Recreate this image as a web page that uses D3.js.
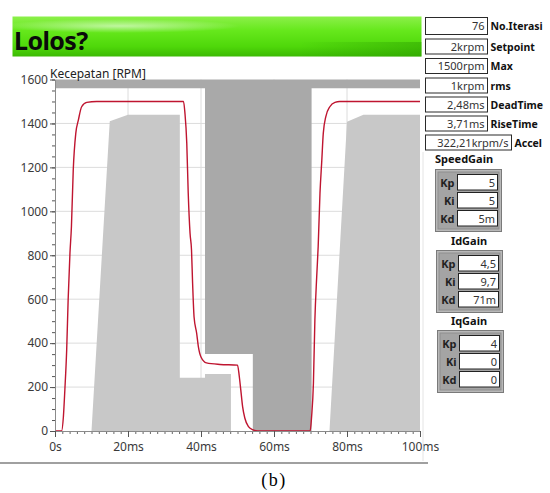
<!DOCTYPE html>
<html><head><meta charset="utf-8">
<script src="https://cdn.jsdelivr.net/npm/d3@7"></script>
<style>
html,body{margin:0;padding:0;background:#fff;}
svg{display:block;}
</style></head>
<body>
<svg id="c" width="550" height="493"></svg>
<script>
// ---------- data ----------
const xTicks = [0, 20, 40, 60, 80, 100];
const xTickLabels = ["0s", "20ms", "40ms", "60ms", "80ms", "100ms"];
const yTicks = [0, 200, 400, 600, 800, 1000, 1200, 1400, 1600];
const yTickLabels = ["0", "200", "400", "600", "800", "1000", "1200", "1400", "1600"];

// upper tolerance boundary (dark gray above it)
const upperT = [0, 41.1, 41.1, 54.2, 54.2, 70.3, 70.3, 100];
const upperV = [1560, 1560, 350, 350, 0, 0, 1560, 1560];
// lower tolerance boundary (light gray below it)
const lowerT = [0, 10, 15, 20, 34.2, 34.2, 41.1, 41.1, 48.2, 48.2, 75.2, 80, 84.5, 100];
const lowerV = [0, 0, 1410, 1440, 1440, 242, 242, 260, 260, 0, 0, 1408, 1440, 1440];

// measured speed
const speedT = [0, 1.8, 2.3, 2.7, 3.2, 3.6, 4.1, 4.5, 5.0, 5.7, 6.4, 7.3, 8.7, 11.4, 35.2, 35.6, 36.1, 36.5, 37.0, 37.4, 37.7, 38.1, 38.8, 39.3, 40.0, 41.5, 45.2, 50.0, 50.5, 50.9, 51.4, 52.0, 53.0, 54.3, 55.5, 69.9, 70.3, 70.8, 71.2, 71.7, 72.1, 72.6, 73.1, 73.5, 74.2, 75.3, 76.7, 78, 100];
const speedV = [0, 0, 65, 187, 369, 596, 810, 930, 1188, 1356, 1415, 1476, 1496, 1500, 1500, 1447, 1311, 1083, 900, 824, 673, 519, 446, 382, 337, 310, 303, 300, 247, 187, 111, 59, 20, 5, 0, 0, 65, 218, 505, 702, 839, 1083, 1233, 1355, 1431, 1476, 1496, 1500, 1500];

// right panel
const infoValues = ["76", "2krpm", "1500rpm", "1krpm", "2,48ms", "3,71ms", "322,21krpm/s"];
const infoLabels = ["No.Iterasi", "Setpoint", "Max", "rms", "DeadTime", "RiseTime", "Accel"];
const gainGroups = ["SpeedGain", "IdGain", "IqGain"];
const gainNames = ["Kp", "Ki", "Kd"];
const speedGain = ["5", "5", "5m"];
const idGain = ["4,5", "9,7", "71m"];
const iqGain = ["4", "0", "0"];

// ---------- drawing ----------
const svg = d3.select("#c");
const font = "'Noto Sans', 'Open Sans', sans-serif";

// banner
const defs = svg.append("defs");
const g1 = defs.append("linearGradient").attr("id", "gb").attr("x1", 0).attr("y1", 0).attr("x2", 0).attr("y2", 1);
g1.append("stop").attr("offset", "0%").attr("stop-color", "#8cf04a");
g1.append("stop").attr("offset", "35%").attr("stop-color", "#66e81c");
g1.append("stop").attr("offset", "75%").attr("stop-color", "#4fd80a");
g1.append("stop").attr("offset", "100%").attr("stop-color", "#3cba04");
const g2 = defs.append("radialGradient").attr("id", "gh").attr("cx", 0.5).attr("cy", 0.5).attr("r", 0.5);
g2.append("stop").attr("offset", "0%").attr("stop-color", "#ffffff").attr("stop-opacity", 0.55);
g2.append("stop").attr("offset", "100%").attr("stop-color", "#ffffff").attr("stop-opacity", 0);
const g3 = defs.append("linearGradient").attr("id", "gr").attr("x1", 0).attr("y1", 0).attr("x2", 1).attr("y2", 0);
g3.append("stop").attr("offset", "0%").attr("stop-color", "#2a9a00").attr("stop-opacity", 0);
g3.append("stop").attr("offset", "100%").attr("stop-color", "#2a9a00").attr("stop-opacity", 0.45);

svg.append("rect").attr("x", 12.5).attr("y", 16.5).attr("width", 409).attr("height", 40).attr("fill", "url(#gb)");
svg.append("ellipse").attr("cx", 120).attr("cy", 26).attr("rx", 120).attr("ry", 7).attr("fill", "url(#gh)");
svg.append("rect").attr("x", 300).attr("y", 42).attr("width", 121.5).attr("height", 14.5).attr("fill", "url(#gr)");
svg.append("text").attr("x", 14).attr("y", 50).attr("font-family", font).attr("font-weight", "bold")
  .attr("font-size", 25).attr("letter-spacing", -0.6).attr("fill", "#0a0a0a").text("Lolos?");

// scales
const x = d3.scaleLinear().domain([0, 100]).range([55, 420]);
const y = d3.scaleLinear().domain([0, 1600]).range([431, 79.5]);

const plot = svg.append("g");
// gridlines
plot.selectAll(".hg").data(yTicks.filter(v => v > 0 && v < 1600)).join("line")
  .attr("x1", x(0)).attr("x2", x(100)).attr("y1", d => y(d)).attr("y2", d => y(d))
  .attr("stroke", "#dcdcdc").attr("stroke-width", 1);
plot.selectAll(".vg").data(xTicks.filter(v => v > 0 && v < 100)).join("line")
  .attr("y1", y(0)).attr("y2", y(1600)).attr("x1", d => x(d)).attr("x2", d => x(d))
  .attr("stroke", "#dcdcdc").attr("stroke-width", 1);

const upper = upperT.map((t, i) => [t, upperV[i]]);
const lower = lowerT.map((t, i) => [t, lowerV[i]]);
plot.append("path").datum(upper)
  .attr("d", d3.area().x(d => x(d[0])).y0(y(1600)).y1(d => y(d[1])))
  .attr("fill", "#a9a9a9");
plot.append("path").datum(lower)
  .attr("d", d3.area().x(d => x(d[0])).y0(y(0)).y1(d => y(d[1])))
  .attr("fill", "#c8c8c8");

const speed = speedT.map((t, i) => [t, speedV[i]]);
plot.append("path").datum(speed)
  .attr("d", d3.line().x(d => x(d[0])).y(d => y(d[1])).curve(d3.curveMonotoneX))
  .attr("fill", "none").attr("stroke", "#bf1530").attr("stroke-width", 1.4);

// axes
function styleAxis(g) {
  g.select(".domain").attr("stroke", "#8a8a8a");
  g.selectAll(".tick line").attr("stroke", "#555");
  g.selectAll(".tick text").attr("fill", "#3a3a3a").attr("font-family", font).attr("font-size", 12);
}
const minorY = d3.range(0, 1601, 50);
svg.append("g").attr("transform", "translate(55,0)")
  .call(d3.axisLeft(y).tickValues(minorY).tickSize(3).tickFormat(""))
  .call(g => { g.select(".domain").remove(); g.selectAll(".tick line").attr("stroke", "#555"); });
svg.append("g").attr("transform", "translate(55,0)")
  .call(d3.axisLeft(y).tickValues(yTicks).tickSize(5).tickSizeOuter(0).tickPadding(2)
    .tickFormat((d, i) => yTickLabels[i]))
  .call(styleAxis);

const minorX = d3.range(0, 101, 2);
svg.append("g").attr("transform", "translate(0,431)")
  .call(d3.axisBottom(x).tickValues(minorX).tickSize(3).tickFormat(""))
  .call(g => { g.select(".domain").remove(); g.selectAll(".tick line").attr("stroke", "#666"); });
svg.append("g").attr("transform", "translate(0,431)")
  .call(d3.axisBottom(x).tickValues(xTicks).tickSize(6).tickSizeOuter(0).tickPadding(5)
    .tickFormat((d, i) => xTickLabels[i]))
  .call(styleAxis);

svg.append("text").attr("x", 50).attr("y", 78).attr("font-family", font).attr("font-size", 12)
  .attr("fill", "#222").text("Kecepatan [RPM]");

// bottom separator and caption
svg.append("line").attr("x1", 0).attr("x2", 428).attr("y1", 463).attr("y2", 463)
  .attr("stroke", "#a0a0a0").attr("stroke-width", 2);
svg.append("text").attr("x", 274).attr("y", 486).attr("text-anchor", "middle")
  .attr("font-family", "'Liberation Serif', 'DejaVu Serif', serif").attr("font-size", 18)
  .attr("letter-spacing", 1.5).attr("fill", "#000").text("(b)");

// right panel
svg.append("line").attr("x1", 423).attr("x2", 423).attr("y1", 152).attr("y2", 461)
  .attr("stroke", "#e4e4e4").attr("stroke-width", 1);

const infoTops = [17, 38.5, 58, 77.5, 96.5, 115.5, 134.5];
const info = svg.append("g");
infoValues.forEach((v, i) => {
  const w = i === 6 ? 86 : 62;
  const h = i === 0 ? 17 : 15;
  info.append("rect").attr("x", 425.5).attr("y", infoTops[i] + 0.5).attr("width", w).attr("height", h)
    .attr("fill", "#fff").attr("stroke", "#2a2a2a").attr("stroke-width", 1);
  info.append("text").attr("x", 425.5 + w - 3).attr("y", infoTops[i] + h / 2 + 4.5).attr("text-anchor", "end")
    .attr("font-family", font).attr("font-size", 11).attr("fill", "#333").text(v);
  info.append("text").attr("x", 425.5 + w + 3).attr("y", infoTops[i] + h / 2 + 4.5)
    .attr("font-family", font).attr("font-size", 10.5).attr("font-weight", "bold").attr("fill", "#111").text(infoLabels[i]);
});

const gainVals = [speedGain, idGain, iqGain];
const gainBox = [{x: 435, y: 169, tx: 435, anchor: "start", ty: 163},
                 {x: 436, y: 250, tx: 469, anchor: "middle", ty: 245},
                 {x: 437, y: 330, tx: 469, anchor: "middle", ty: 325}];
gainGroups.forEach((name, gi) => {
  const b = gainBox[gi];
  const g = svg.append("g");
  g.append("text").attr("x", b.tx).attr("y", b.ty).attr("text-anchor", b.anchor)
    .attr("font-family", font).attr("font-size", 11).attr("font-weight", "bold").attr("fill", "#111").text(name);
  g.append("rect").attr("x", b.x + 0.5).attr("y", b.y + 0.5).attr("width", 66).attr("height", 62)
    .attr("fill", "#b8b8b8").attr("stroke", "#7a7a7a").attr("stroke-width", 1);
  g.append("rect").attr("x", b.x + 3).attr("y", b.y + 3).attr("width", 61).attr("height", 57)
    .attr("fill", "#a4a4a4").attr("stroke", "#8e8e8e").attr("stroke-width", 1);
  gainNames.forEach((n, k) => {
    const yy = b.y + 5.5 + k * 18;
    g.append("rect").attr("x", b.x + 22.5).attr("y", yy).attr("width", 40).attr("height", 15.5)
      .attr("fill", "#fff").attr("stroke", "#222").attr("stroke-width", 1);
    g.append("text").attr("x", b.x + 19.5).attr("y", yy + 12).attr("text-anchor", "end")
      .attr("font-family", font).attr("font-size", 11).attr("font-weight", "bold").attr("fill", "#222").text(n);
    g.append("text").attr("x", b.x + 60).attr("y", yy + 12).attr("text-anchor", "end")
      .attr("font-family", font).attr("font-size", 11).attr("fill", "#333").text(gainVals[gi][k]);
  });
});
</script>
</body></html>
